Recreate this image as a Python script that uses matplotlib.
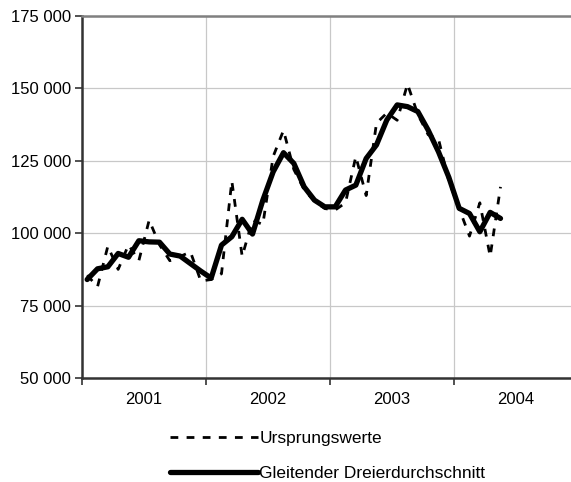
import numpy as np
import matplotlib
matplotlib.use("Agg")
import matplotlib.pyplot as plt
from matplotlib.ticker import FixedLocator, FuncFormatter

plt.rcParams['font.family'] = ['Liberation Sans', 'DejaVu Sans']

# monthly values Jan 2001 .. May 2004
years = ['2001', '2002', '2003', '2004']
original = [85500, 81500, 95500, 87500, 96000, 90500, 104500, 96000, 90500, 92000, 93500, 83500,
            84000, 86000, 118000, 92000, 104500, 103000, 126500, 135500, 122000, 115000, 111000, 108500,
            108000, 110500, 126500, 113000, 138000, 141500, 139000, 151500, 141000, 134000, 132500, 118000,
            108500, 99000, 110500, 92000, 116000]
moving_avg = [84000, 87700, 88400, 93000, 91700, 97400, 97000, 96900, 92800, 92100, 89500, 86900,
              84500, 95900, 98800, 104800, 99700, 111400, 121200, 127800, 124100, 116000, 111400, 109100,
              109100, 114900, 116600, 125800, 130500, 139100, 144300, 143700, 142000, 135600, 128100, 119300,
              108600, 106800, 100500, 107200, 105100]
labels = ['Ursprungswerte', 'Gleitender Dreierdurchschnitt']

months = np.arange(len(original))

fig = plt.figure(figsize=(5.71, 4.82), dpi=100)
ax = fig.add_axes([82 / 571, 104 / 482, 496 / 571, 362 / 482])

l1, = ax.plot(months, original, color='black', lw=2.0, dashes=(2.8, 3.0), label=labels[0])
l2, = ax.plot(months, moving_avg, color='black', lw=3.8, solid_joinstyle='round',
              solid_capstyle='round', label=labels[1])

ax.set_xlim(-0.5, 47.5)
ax.set_ylim(50000, 175000)
ax.set_yticks(np.arange(50000, 175001, 25000))
ax.yaxis.set_major_formatter(FuncFormatter(lambda v, p: f"{v:,.0f}".replace(",", " ")))

# year boundaries as major ticks, year names centred as minor ticks
ax.xaxis.set_major_locator(FixedLocator([-0.5, 11.5, 23.5, 35.5]))
ax.xaxis.set_major_formatter(FuncFormatter(lambda v, p: ''))
ax.xaxis.set_minor_locator(FixedLocator([5.5, 17.5, 29.5, 41.5]))
ax.set_xticklabels(years, minor=True)
ax.tick_params(axis='x', which='minor', length=0, pad=10, labelsize=12)
ax.tick_params(axis='x', which='major', length=5, width=1.2, color='#333333', direction='out')
ax.tick_params(axis='y', length=5, width=1.2, color='#333333', direction='out', labelsize=12, pad=3)

ax.grid(True, which='major', color='#c8c8c8', lw=0.9)
ax.set_axisbelow(True)

for s in ['left', 'bottom']:
    ax.spines[s].set_color('#333333')
    ax.spines[s].set_linewidth(1.8)
ax.spines['top'].set_color('#808080')
ax.spines['top'].set_linewidth(1.8)
ax.spines['right'].set_visible(False)

fig.legend(handles=[l1, l2], loc='upper left', bbox_to_anchor=(170 / 571, 1 - 431 / 482),
           frameon=False, fontsize=12.5, handlelength=5.05, handletextpad=0.1,
           labelspacing=1.12, borderpad=0, borderaxespad=0)

fig.savefig('out.png', dpi=100)
